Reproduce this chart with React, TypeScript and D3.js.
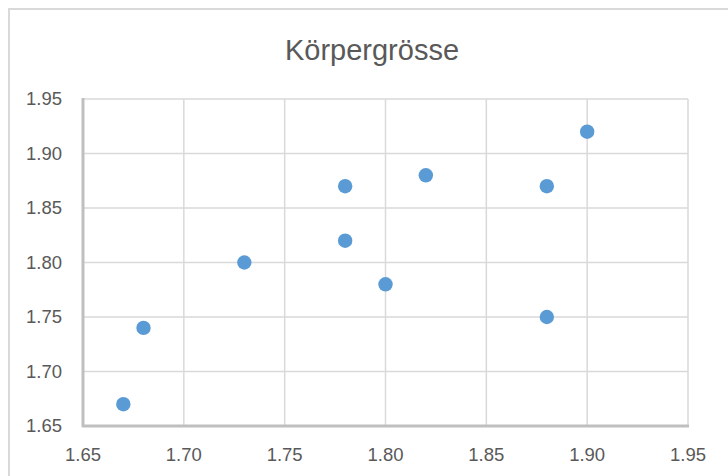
import React from "react";
import * as d3 from "d3";

const xValues = [1.67, 1.68, 1.73, 1.78, 1.78, 1.8, 1.82, 1.88, 1.88, 1.9];
const yValues = [1.67, 1.74, 1.8, 1.87, 1.82, 1.78, 1.88, 1.87, 1.75, 1.92];
const xTicks = [1.65, 1.7, 1.75, 1.8, 1.85, 1.9, 1.95];
const yTicks = [1.65, 1.7, 1.75, 1.8, 1.85, 1.9, 1.95];
const title = "Körpergrösse";

export default function App() {
  const W = 728, H = 476;
  const x = d3.scaleLinear().domain([1.65, 1.95]).range([83, 688]);
  const y = d3.scaleLinear().domain([1.65, 1.95]).range([426, 99]);
  const font = "'Liberation Sans', Arial, sans-serif";
  const pts = xValues.map((v, i) => [v, yValues[i]]);
  return (
    <svg width={W} height={H} style={{ position: "fixed", left: 0, top: 0, background: "#fff" }}>
      <rect x={9} y={9} width={740} height={500} fill="#fff" stroke="#d9d9d9" strokeWidth={2} />
      <text x={372} y={60} textAnchor="middle" fontFamily={font} fontSize={29} fill="#595959">{title}</text>
      {xTicks.map((t) => (
        <line key={"gx" + t} x1={x(t)} x2={x(t)} y1={y(1.95)} y2={y(1.65)} stroke="#d9d9d9" strokeWidth={1.5} />
      ))}
      {yTicks.map((t) => (
        <line key={"gy" + t} x1={x(1.65)} x2={x(1.95)} y1={y(t)} y2={y(t)} stroke="#d9d9d9" strokeWidth={1.5} />
      ))}
      <line x1={x(1.65)} x2={x(1.65)} y1={y(1.95) - 1} y2={y(1.65) + 1} stroke="#bfbfbf" strokeWidth={3} />
      <line x1={x(1.65) - 1} x2={x(1.95) + 1} y1={y(1.65)} y2={y(1.65)} stroke="#bfbfbf" strokeWidth={3} />
      {yTicks.map((t) => (
        <text key={"ly" + t} x={62} y={y(t)} dy="0.35em" textAnchor="end" fontFamily={font} fontSize={18.5} fill="#595959">{t.toFixed(2)}</text>
      ))}
      {xTicks.map((t) => (
        <text key={"lx" + t} x={x(t)} y={461} textAnchor="middle" fontFamily={font} fontSize={18.5} fill="#595959">{t.toFixed(2)}</text>
      ))}
      {pts.map(([a, b], i) => (
        <circle key={i} cx={x(a)} cy={y(b)} r={7.2} fill="#5b9bd5" />
      ))}
    </svg>
  );
}
